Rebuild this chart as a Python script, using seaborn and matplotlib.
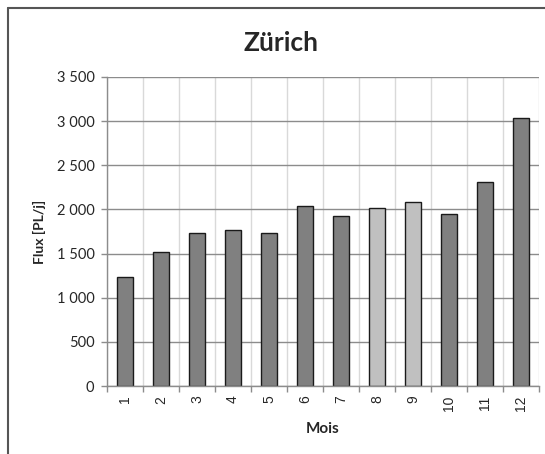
import matplotlib
matplotlib.use("Agg")
import matplotlib.pyplot as plt
from matplotlib.lines import Line2D
from matplotlib.ticker import FuncFormatter, FixedLocator
import seaborn as sns
import pandas as pd

# données
mois = ["1", "2", "3", "4", "5", "6", "7", "8", "9", "10", "11", "12"]
flux = [1231, 1514, 1737, 1767, 1736, 2042, 1920, 2020, 2088, 1948, 2307, 3039]
couleurs = ["#808080"] * 7 + ["#c0c0c0"] * 2 + ["#808080"] * 3

sns.set_theme(style="white")
plt.rcParams["font.family"] = ["Lato", "DejaVu Sans"]

df = pd.DataFrame({"Mois": mois, "Flux": flux})

fig = plt.figure(figsize=(5.45, 4.54), dpi=100)
ax = fig.add_axes([107 / 545, 1 - 386 / 454, 432 / 545, 309 / 454])

sns.barplot(data=df, x="Mois", y="Flux", hue="Mois", palette=couleurs,
            order=mois, hue_order=mois, legend=False, width=0.42,
            edgecolor="#1a1a1a", linewidth=1.0, saturation=1, ax=ax)

ax.set_ylim(0, 3500)
ax.set_xlim(-0.5, 11.5)
ax.set_yticks(range(0, 3501, 500))
ax.yaxis.set_major_formatter(FuncFormatter(lambda v, p: f"{int(v):,}".replace(",", " ")))

# grille horizontale foncée, verticale claire
ax.yaxis.grid(True, color="#8c8c8c", linewidth=1.0)
ax.xaxis.set_minor_locator(FixedLocator([i - 0.5 for i in range(13)]))
ax.xaxis.grid(True, which="minor", color="#d9d9d9", linewidth=1.0)
ax.xaxis.grid(False, which="major")
ax.set_axisbelow(True)

ax.tick_params(axis="x", which="major", length=0, pad=7, labelsize=10, labelrotation=90)
ax.tick_params(axis="x", which="minor", length=4, color="#8c8c8c", width=1, direction="out")
ax.tick_params(axis="y", length=4, color="#8c8c8c", width=1, direction="out", pad=5, labelsize=10.5)
ax.xaxis.set_ticks_position("bottom")
ax.yaxis.set_ticks_position("left")
for lab in ax.get_xticklabels():
    lab.set_family(["Liberation Sans", "DejaVu Sans"])

for side in ["top", "right"]:
    ax.spines[side].set_visible(False)
for side in ["left", "bottom"]:
    ax.spines[side].set_color("#8c8c8c")
    ax.spines[side].set_linewidth(1.0)

ax.set_xlabel("Mois", fontsize=11, fontweight="bold", labelpad=8)
ax.set_ylabel("Flux [PL/j]", fontsize=10, fontweight="bold", labelpad=8)
fig.text(281 / 545, 1 - 43 / 454, "Zürich", ha="center", va="center",
         fontsize=19, fontweight="bold")

# cadre du graphique (coupé à droite et en bas)
fig.add_artist(Line2D([8 / 545, 8 / 545], [0, 1 - 8 / 454], transform=fig.transFigure,
                      color="#555555", linewidth=1.5))
fig.add_artist(Line2D([8 / 545, 1], [1 - 8 / 454, 1 - 8 / 454], transform=fig.transFigure,
                      color="#555555", linewidth=1.5))

fig.savefig("out.png", dpi=100)
